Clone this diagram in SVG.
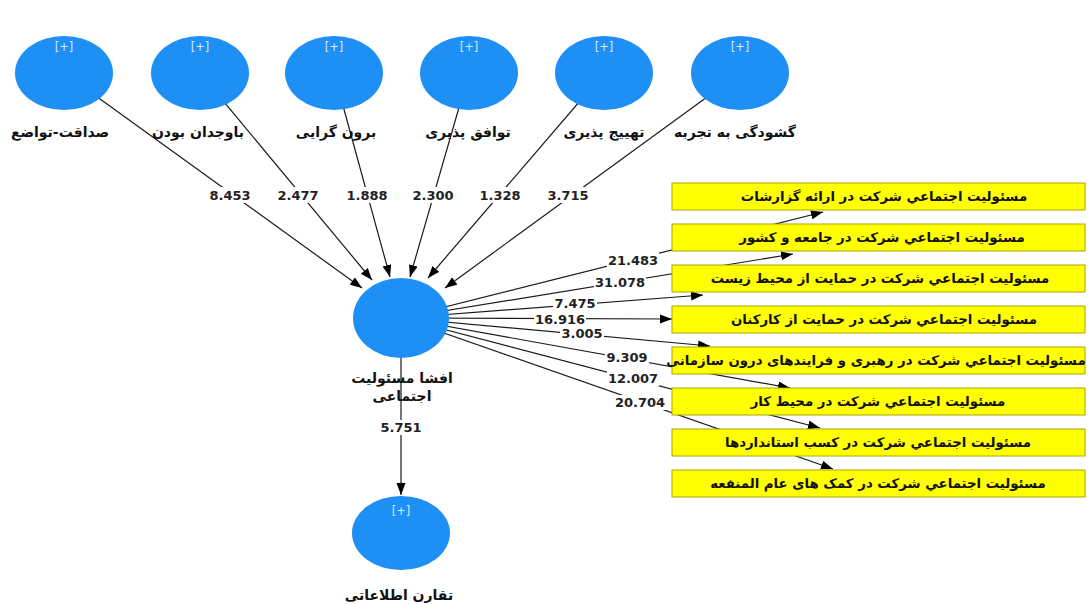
<svg xmlns="http://www.w3.org/2000/svg" width="1091" height="604" viewBox="0 0 1091 604">
<style>
.lv{fill:#1e8ff5;}
.pl{font-family:"DejaVu Sans","Liberation Sans",sans-serif;font-size:11.5px;fill:#d6ebff;text-anchor:middle;}
.nl{font-family:"DejaVu Sans","Noto Sans",sans-serif;font-size:14px;font-weight:bold;fill:#111;text-anchor:middle;}
.bx{fill:#ffff00;stroke:#a8a800;stroke-width:1;}
.bt{font-family:"DejaVu Sans","Noto Sans",sans-serif;font-size:13.3px;font-weight:bold;fill:#111;text-anchor:middle;}
.ed{stroke:#1a1a1a;stroke-width:1.2;fill:none;marker-end:url(#ah);}
.el{font-family:"DejaVu Sans","Liberation Sans",sans-serif;font-size:13px;font-weight:bold;fill:#222;text-anchor:middle;}
.lb{fill:#fff;}
</style>
<defs>
<marker id="ah" markerUnits="userSpaceOnUse" markerWidth="13" markerHeight="10" refX="12" refY="4.5" orient="auto">
<path d="M0,0 L12,4.5 L0,9 z" fill="#000"/>
</marker>
</defs>
<rect width="1091" height="604" fill="#fff"/>
<g id="connectors">
<line class="ed" x1="64" y1="73" x2="362" y2="288"/>
<line class="ed" x1="200" y1="73" x2="372" y2="280"/>
<line class="ed" x1="334" y1="73" x2="390" y2="277"/>
<line class="ed" x1="469" y1="73" x2="410" y2="277"/>
<line class="ed" x1="604" y1="73" x2="428" y2="278"/>
<line class="ed" x1="740" y1="73" x2="445" y2="288"/>
<line class="ed" x1="401" y1="318" x2="823" y2="212"/>
<line class="ed" x1="401" y1="318" x2="793" y2="254"/>
<line class="ed" x1="401" y1="318" x2="703" y2="295"/>
<line class="ed" x1="401" y1="318" x2="672" y2="319"/>
<line class="ed" x1="401" y1="318" x2="710" y2="346"/>
<line class="ed" x1="401" y1="318" x2="790" y2="388"/>
<line class="ed" x1="401" y1="318" x2="820" y2="428"/>
<line class="ed" x1="401" y1="318" x2="833" y2="469"/>
<line class="ed" x1="401" y1="340" x2="401" y2="495"/>
<g id="edge-labels">
<rect class="lb" x="208" y="187" width="44" height="16"/><text class="el" x="230" y="200">8.453</text>
<rect class="lb" x="276" y="187" width="44" height="16"/><text class="el" x="298" y="200">2.477</text>
<rect class="lb" x="345" y="187" width="44" height="16"/><text class="el" x="367" y="200">1.888</text>
<rect class="lb" x="411" y="187" width="44" height="16"/><text class="el" x="433" y="200">2.300</text>
<rect class="lb" x="478" y="187" width="44" height="16"/><text class="el" x="500" y="200">1.328</text>
<rect class="lb" x="546" y="187" width="44" height="16"/><text class="el" x="568" y="200">3.715</text>
<rect class="lb" x="607" y="252" width="52" height="15"/><text class="el" x="633" y="265">21.483</text>
<rect class="lb" x="594" y="275" width="52" height="15"/><text class="el" x="620" y="287">31.078</text>
<rect class="lb" x="553" y="297" width="44" height="13"/><text class="el" x="575" y="308">7.475</text>
<rect class="lb" x="534" y="312" width="52" height="14"/><text class="el" x="560" y="324">16.916</text>
<rect class="lb" x="560" y="328" width="44" height="13"/><text class="el" x="582" y="338">3.005</text>
<rect class="lb" x="605" y="350" width="44" height="15"/><text class="el" x="627" y="362">9.309</text>
<rect class="lb" x="607" y="371" width="52" height="15"/><text class="el" x="633" y="383">12.007</text>
<rect class="lb" x="614" y="395" width="52" height="15"/><text class="el" x="640" y="407">20.704</text>
<rect class="lb" x="379" y="420" width="44" height="15"/><text class="el" x="401" y="432">5.751</text>
</g>
</g>
<g id="n1"><ellipse class="lv" cx="64" cy="73" rx="49" ry="37"/><text class="pl" x="64" y="51">[+]</text><text class="nl" x="60" y="137" direction="rtl">صداقت-تواضع</text></g>
<g id="n2"><ellipse class="lv" cx="200" cy="73" rx="49" ry="37"/><text class="pl" x="200" y="51">[+]</text><text class="nl" x="198" y="137" direction="rtl">باوجدان بودن</text></g>
<g id="n3"><ellipse class="lv" cx="334" cy="73" rx="49" ry="37"/><text class="pl" x="334" y="51">[+]</text><text class="nl" x="336" y="137" direction="rtl">برون گرایی</text></g>
<g id="n4"><ellipse class="lv" cx="469" cy="73" rx="49" ry="37"/><text class="pl" x="469" y="51">[+]</text><text class="nl" x="468" y="137" direction="rtl">توافق پذیری</text></g>
<g id="n5"><ellipse class="lv" cx="604" cy="73" rx="49" ry="37"/><text class="pl" x="604" y="51">[+]</text><text class="nl" x="604" y="137" direction="rtl">تهییج پذیری</text></g>
<g id="n6"><ellipse class="lv" cx="740" cy="73" rx="49" ry="37"/><text class="pl" x="740" y="51">[+]</text><text class="nl" x="735" y="137" direction="rtl">گشودگی به تجربه</text></g>
<g id="center"><ellipse class="lv" cx="401" cy="318" rx="48" ry="40"/><text class="nl" x="402" y="383" direction="rtl">افشا مسئولیت</text><text class="nl" x="402" y="401" direction="rtl">اجتماعی</text></g>
<g id="n8"><ellipse class="lv" cx="401" cy="533" rx="49" ry="37"/><text class="pl" x="401" y="515">[+]</text><text class="nl" x="399" y="600" direction="rtl">تقارن اطلاعاتی</text></g>
<g id="b1"><rect class="bx" x="672" y="183" width="413" height="27"/><text class="bt" x="884" y="201" direction="rtl">مسئولیت اجتماعي شرکت در ارائه گزارشات</text></g>
<g id="b2"><rect class="bx" x="672" y="224" width="413" height="27"/><text class="bt" x="882" y="242" direction="rtl">مسئولیت اجتماعي شرکت در جامعه و کشور</text></g>
<g id="b3"><rect class="bx" x="672" y="265" width="413" height="27"/><text class="bt" x="880" y="283" direction="rtl">مسئولیت اجتماعي شرکت در حمایت از محیط زیست</text></g>
<g id="b4"><rect class="bx" x="672" y="306" width="413" height="27"/><text class="bt" x="884" y="324" direction="rtl">مسئولیت اجتماعي شرکت در حمایت از کارکنان</text></g>
<g id="b5"><rect class="bx" x="672" y="347" width="413" height="27"/><text class="bt" x="876" y="365" direction="rtl">مسئولیت اجتماعي شرکت در رهبری و فرایندهای درون سازمانی</text></g>
<g id="b6"><rect class="bx" x="672" y="388" width="413" height="27"/><text class="bt" x="878" y="406" direction="rtl">مسئولیت اجتماعي شرکت در محیط کار</text></g>
<g id="b7"><rect class="bx" x="672" y="429" width="413" height="27"/><text class="bt" x="878" y="447" direction="rtl">مسئولیت اجتماعي شرکت در کسب استانداردها</text></g>
<g id="b8"><rect class="bx" x="672" y="470" width="413" height="27"/><text class="bt" x="878" y="488" direction="rtl">مسئولیت اجتماعي شرکت در کمک های عام المنفعه</text></g>
</svg>
